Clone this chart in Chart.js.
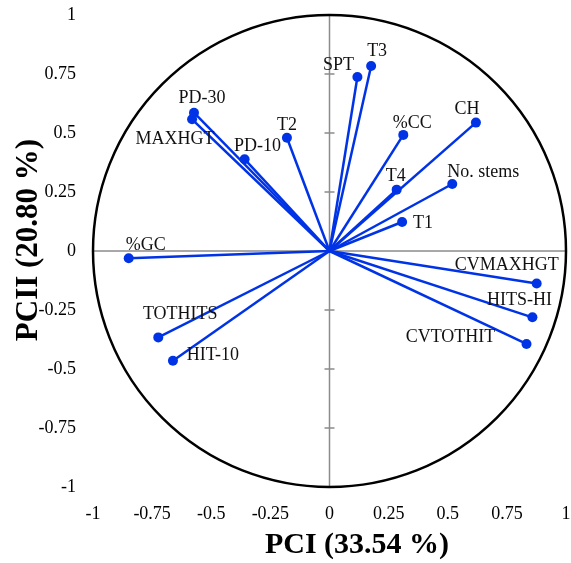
<!DOCTYPE html>
<html>
<head>
<meta charset="utf-8">
<script src="https://cdn.jsdelivr.net/npm/chart.js@4.4.1/dist/chart.umd.min.js"></script>
<style>
    body { margin: 0; background: #fff; }
    canvas { display: block; }
</style>
</head>
<body>
<canvas id="graficoPCA" width="571" height="563"></canvas>
<script>
// variáveis e coordenadas no plano PCI x PCII
const variaveis = ["PD-30", "MAXHGT", "PD-10", "T2", "SPT", "T3", "%GC", "%CC", "CH", "T4",
    "No. stems", "T1", "TOTHITS", "HIT-10", "CVMAXHGT", "HITS-HI", "CVTOTHIT"];
const pc1 = [-0.573, -0.581, -0.359, -0.180, 0.118, 0.176, -0.849, 0.312, 0.619, 0.284,
    0.519, 0.307, -0.724, -0.662, 0.876, 0.858, 0.833];
const pc2 = [0.586, 0.558, 0.389, 0.480, 0.737, 0.784, -0.031, 0.492, 0.544, 0.260,
    0.284, 0.123, -0.366, -0.465, -0.138, -0.281, -0.394];
const ticksEixo = [-1, -0.75, -0.5, -0.25, 0, 0.25, 0.5, 0.75, 1];

// deslocamento do rótulo em relação ao ponto (px)
const deslocRotulos = [[8, -14], [-17, 20], [13, -13], [0, -12], [-19, -12], [6, -15], [17, -13],
    [9, -12], [-9, -13], [-1, -13], [31, -12], [21, 1], [22, -23], [40, -5], [-30, -18], [-13, -17], [-76, -7]];

const azul = "#0033e6";
const fonte = "'Liberation Serif', 'Times New Roman', serif";

const datasets = variaveis.map((nome, i) => ({
    label: nome,
    data: [{ x: 0, y: 0 }, { x: pc1[i], y: pc2[i] }],
    showLine: true,
    borderColor: azul,
    backgroundColor: azul,
    borderWidth: 2.5,
    pointRadius: [0, 5],
    pointHoverRadius: [0, 5],
    pointBorderWidth: 0
}));

const circuloEixos = {
    id: "circuloEixos",
    beforeDatasetsDraw(chart) {
        const ctx = chart.ctx;
        const sx = chart.scales.x, sy = chart.scales.y;
        const cx = sx.getPixelForValue(0), cy = sy.getPixelForValue(0);
        ctx.save();
        // eixos centrais
        ctx.strokeStyle = "#8c8c8c";
        ctx.lineWidth = 1.5;
        ctx.beginPath();
        ctx.moveTo(sx.getPixelForValue(-1), cy);
        ctx.lineTo(sx.getPixelForValue(1), cy);
        ctx.moveTo(cx, sy.getPixelForValue(-1));
        ctx.lineTo(cx, sy.getPixelForValue(1));
        ticksEixo.forEach(v => {
            if (v === 0) return;
            const y = sy.getPixelForValue(v);
            ctx.moveTo(cx - 5, y);
            ctx.lineTo(cx + 5, y);
        });
        ctx.stroke();
        // círculo de correlação
        ctx.strokeStyle = "#000";
        ctx.lineWidth = 2.5;
        ctx.beginPath();
        ctx.ellipse(cx, cy, sx.getPixelForValue(1) - cx, cy - sy.getPixelForValue(1), 0, 0, Math.PI * 2);
        ctx.stroke();
        ctx.restore();
    },
    afterDatasetsDraw(chart) {
        const ctx = chart.ctx;
        ctx.save();
        ctx.fillStyle = "#111";
        ctx.font = "18px " + fonte;
        ctx.textAlign = "center";
        ctx.textBaseline = "middle";
        variaveis.forEach((nome, i) => {
            const pt = chart.getDatasetMeta(i).data[1];
            ctx.fillText(nome, pt.x + deslocRotulos[i][0], pt.y + deslocRotulos[i][1]);
        });
        // títulos dos eixos
        ctx.fillStyle = "#000";
        ctx.font = "bold 30px " + fonte;
        ctx.fillText("PCI (33.54 %)", 357, 545);
        ctx.font = "bold 31px " + fonte;
        ctx.translate(29, 240);
        ctx.rotate(-Math.PI / 2);
        ctx.fillText("PCII (20.80 %)", 0, 0);
        ctx.restore();
    }
};

new Chart(document.getElementById("graficoPCA").getContext("2d"), {
    type: "scatter",
    data: { datasets: datasets },
    options: {
        responsive: false,
        animation: false,
        layout: { padding: { left: 33, right: 4, top: 15, bottom: 36 } },
        plugins: {
            legend: { display: false },
            tooltip: { enabled: false }
        },
        scales: {
            x: {
                min: -1, max: 1,
                afterBuildTicks: s => { s.ticks = ticksEixo.map(v => ({ value: v })); },
                afterFit: s => { s.height = 40; s.paddingLeft = 0; s.paddingRight = 0; },
                grid: { display: false, drawTicks: false },
                border: { display: false },
                ticks: {
                    color: "#000",
                    padding: 16,
                    maxRotation: 0,
                    font: { family: fonte, size: 18 },
                    callback: v => String(v)
                }
            },
            y: {
                min: -1, max: 1,
                afterBuildTicks: s => { s.ticks = ticksEixo.map(v => ({ value: v })); },
                afterFit: s => { s.width = 60; s.paddingTop = 0; s.paddingBottom = 0; },
                grid: { display: false, drawTicks: false },
                border: { display: false },
                ticks: {
                    color: "#000",
                    padding: 17,
                    font: { family: fonte, size: 18 },
                    callback: v => String(v)
                }
            }
        }
    },
    plugins: [circuloEixos]
});
</script>
</body>
</html>
